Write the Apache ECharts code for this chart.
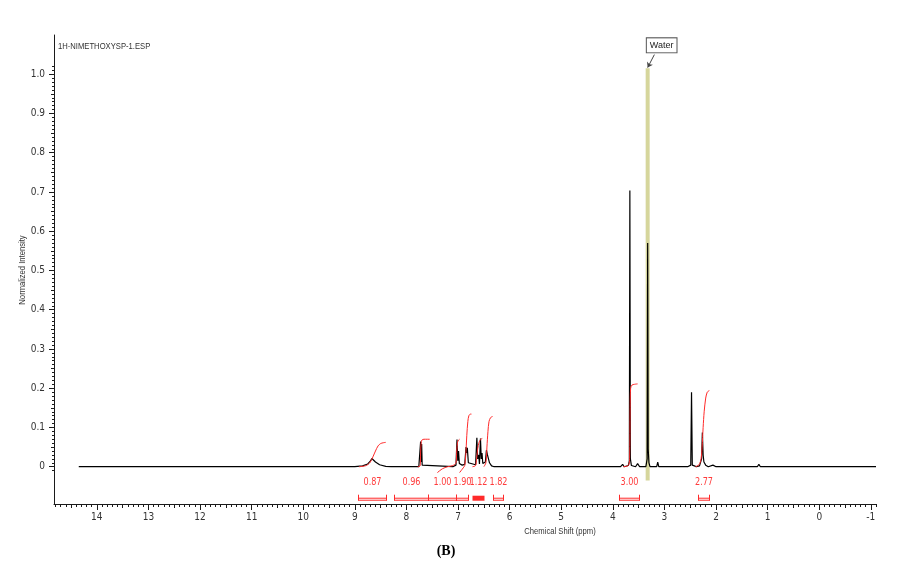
<!DOCTYPE html>
<html>
<head>
<meta charset="utf-8">
<script src="https://cdn.jsdelivr.net/npm/echarts@6/dist/echarts.min.js"></script>
<style>
html,body{margin:0;padding:0;background:#fff;}
#chart{width:902px;height:562px;}
</style>
</head>
<body>
<div id="chart"></div>
<script>
// ---- data ----
var spectrumTitle = '1H-NIMETHOXYSP-1.ESP';
var xTickValues = [14, 13, 12, 11, 10, 9, 8, 7, 6, 5, 4, 3, 2, 1, 0, -1];
var yTickValues = [0, 0.1, 0.2, 0.3, 0.4, 0.5, 0.6, 0.7, 0.8, 0.9, 1.0];

// spectrum trace: [chemical shift (ppm), normalized intensity]
var spectrum = [
  [14.35, 0], [9.0, 0], [8.85, 0.002], [8.75, 0.007], [8.70, 0.014], [8.67, 0.021], [8.64, 0.019],
  [8.60, 0.012], [8.52, 0.005], [8.40, 0.001], [8.30, 0],
  [7.76, 0], [7.735, 0.005], [7.725, 0.064], [7.715, 0.012], [7.705, 0.058], [7.695, 0.004], [7.67, 0],
  [7.10, 0], [7.04, 0.004], [7.02, 0.069], [7.005, 0.015], [6.99, 0.04], [6.975, 0.008], [6.94, 0.012], [6.92, 0.004],
  [6.87, 0.006], [6.845, 0.05], [6.83, 0.035], [6.82, 0.048], [6.80, 0.01], [6.77, 0.006],
  [6.66, 0.005], [6.635, 0.074], [6.62, 0.02], [6.60, 0.03], [6.585, 0.007], [6.565, 0.072], [6.55, 0.02],
  [6.535, 0.035], [6.52, 0.008], [6.47, 0.012], [6.45, 0.042], [6.43, 0.03], [6.41, 0.035], [6.39, 0.01],
  [6.35, 0.002], [6.30, 0],
  [4.15, 0], [4.12, 0.004], [4.10, 0],
  [3.85, 0], [3.81, 0.006], [3.78, 0], [3.70, 0.003], [3.68, 0.015], [3.67, 0.704], [3.66, 0.02],
  [3.64, 0.003], [3.56, 0], [3.52, 0.008], [3.48, 0],
  [3.36, 0], [3.335, 0.02], [3.325, 0.57], [3.315, 0.045], [3.30, 0.01], [3.28, 0],
  [3.15, 0], [3.13, 0.012], [3.11, 0],
  [2.55, 0], [2.49, 0.004], [2.475, 0.19], [2.46, 0.004], [2.42, 0.002], [2.38, 0],
  [2.32, 0.002], [2.28, 0.02], [2.265, 0.087], [2.25, 0.03], [2.235, 0.012], [2.20, 0.004], [2.15, 0],
  [2.06, 0.004], [2.0, 0],
  [1.20, 0], [1.17, 0.006], [1.14, 0], [0.82, 0], [0.80, 0.003], [0.78, 0], [-1.1, 0]
];

// water peak highlight
var waterShift = 3.325;
var waterTop = 1.015;
var waterBottom = -0.035;
var waterLabel = 'Water';

// integral curves
var integral1 = [[8.92, 0], [8.78, 0.003], [8.70, 0.012], [8.65, 0.025], [8.60, 0.04], [8.55, 0.053], [8.50, 0.059], [8.45, 0.061], [8.40, 0.062]];
var integral2 = [[7.78, 0], [7.735, 0.002], [7.725, 0.035], [7.715, 0.06], [7.70, 0.068], [7.66, 0.07], [7.55, 0.07]];
var integral3 = [[7.40, -0.015], [7.30, -0.005], [7.20, 0.0], [7.10, 0.003], [7.04, 0.01], [7.025, 0.04], [7.01, 0.062], [6.99, 0.068], [6.97, 0.07]];
var integral4 = [[6.97, -0.015], [6.90, -0.003], [6.87, 0.003], [6.85, 0.03], [6.83, 0.08], [6.81, 0.115], [6.79, 0.13], [6.76, 0.134], [6.74, 0.134]];
var integral5 = [[6.72, 0.0], [6.66, 0.003], [6.64, 0.02], [6.62, 0.045], [6.59, 0.063], [6.56, 0.07], [6.53, 0.072]];
var integral6 = [[6.50, 0.0], [6.46, 0.01], [6.44, 0.05], [6.42, 0.09], [6.40, 0.115], [6.37, 0.125], [6.33, 0.128]];
var integral7 = [[3.80, 0], [3.70, 0.003], [3.675, 0.02], [3.665, 0.15], [3.655, 0.2], [3.63, 0.208], [3.58, 0.21], [3.52, 0.211]];
var integral8 = [[2.40, 0], [2.33, 0.005], [2.29, 0.02], [2.27, 0.05], [2.25, 0.1], [2.23, 0.14], [2.20, 0.175], [2.17, 0.19], [2.13, 0.194]];

// integration ranges and values
var integralLabels = ['0.87', '0.96', '1.00', '1.90', '1.12', '1.82', '3.00', '2.77'];
var integralFrom = [8.94, 8.24, 7.59, 7.04, 6.73, 6.33, 3.88, 2.35];
var integralTo = [8.40, 7.59, 7.04, 6.81, 6.49, 6.13, 3.50, 2.14];
var filledBrackets = ['1.12'];

// ---- chart ----
var X_MIN = -1.1, X_MAX = 14.83, Y_MIN = -0.095, Y_MAX = 1.1;
var RED = '#ff2a2a';
var AXIS = '#1a1a1a';
var TXT = '#333';
var FONT = 'Liberation Sans Narrow, DejaVu Sans Condensed, Liberation Sans, Arial, sans-serif';
var FONT_PLAIN = 'Liberation Sans, Arial, sans-serif';

function steps(a, b, s) {
  var out = [];
  var n = Math.round((b - a) / s);
  for (var i = 0; i <= n; i++) out.push(Math.round((a + i * s) * 1000) / 1000);
  return out;
}
var xMinor = steps(-1.1, 14.8, 0.1);
var xMid = steps(-1, 14.5, 0.5);
var yMinor = steps(-0.01, 1.02, 0.01);
var yMid = steps(0, 1.0, 0.05);

var bracketData = integralLabels.map(function (l, i) { return [integralFrom[i], integralTo[i], l]; });

function xAxisBase(extra) {
  var a = {
    type: 'value', inverse: true, min: X_MIN, max: X_MAX, position: 'bottom',
    splitLine: { show: false },
    axisLine: { show: false, onZero: false },
    axisLabel: { show: false },
    axisTick: { show: false }
  };
  for (var k in extra) a[k] = extra[k];
  return a;
}
function yAxisBase(extra) {
  var a = {
    type: 'value', min: Y_MIN, max: Y_MAX, position: 'left',
    splitLine: { show: false },
    axisLine: { show: false, onZero: false },
    axisLabel: { show: false },
    axisTick: { show: false }
  };
  for (var k in extra) a[k] = extra[k];
  return a;
}

var integralCurves = [integral1, integral2, integral3, integral4, integral5, integral6, integral7, integral8];

var series = [
  {
    type: 'line', name: 'water', data: [[waterShift, waterBottom], [waterShift, waterTop]],
    symbol: 'none', z: 1, silent: true,
    lineStyle: { color: '#d6d69c', width: 4 },
    markPoint: {
      symbol: 'circle', symbolSize: 0,
      data: [{ coord: [waterShift, waterTop] }],
      label: {
        show: true, formatter: waterLabel, offset: [14, -23],
        fontSize: 9, fontFamily: FONT_PLAIN, color: '#222',
        backgroundColor: '#fff', borderColor: '#555', borderWidth: 1, padding: [3, 3, 2, 3]
      }
    },
    markLine: {
      silent: true, symbol: ['none', 'arrow'], symbolSize: 5,
      lineStyle: { color: '#444', width: 1, type: 'solid' },
      label: { show: false },
      data: [[{ coord: [waterShift - 0.13, waterTop + 0.035] }, { coord: [waterShift, waterTop + 0.002] }]]
    }
  },
  {
    type: 'line', name: 'spectrum', data: spectrum, symbol: 'none', z: 3,
    lineStyle: { color: '#000', width: 1.2 }
  }
];
integralCurves.forEach(function (c) {
  series.push({ type: 'line', data: c, symbol: 'none', smooth: 0.3, z: 4, lineStyle: { color: RED, width: 1 } });
});
series.push({
  type: 'custom', data: bracketData, z: 5, clip: false,
  encode: { x: [0, 1], y: -1 },
  renderItem: function (params, api) {
    var p1 = api.coord([api.value(0), 0]);
    var p2 = api.coord([api.value(1), 0]);
    var label = bracketData[params.dataIndex][2];
    var y0 = p1[1];
    var xa = Math.round(p1[0]) + 0.5, xb = Math.round(p2[0]) + 0.5;
    var children = [];
    if (filledBrackets.indexOf(label) >= 0) {
      children.push({ type: 'rect', shape: { x: xa, y: y0 + 29, width: xb - xa, height: 5 }, style: { fill: RED } });
    } else {
      var ls = { stroke: RED, lineWidth: 1 };
      children.push({ type: 'line', shape: { x1: xa, y1: y0 + 28, x2: xa, y2: y0 + 34 }, style: ls });
      children.push({ type: 'line', shape: { x1: xb, y1: y0 + 28, x2: xb, y2: y0 + 34 }, style: ls });
      children.push({ type: 'line', shape: { x1: xa, y1: y0 + 31.5, x2: xb, y2: y0 + 31.5 }, style: ls });
      children.push({ type: 'line', shape: { x1: xa, y1: y0 + 33.5, x2: xb, y2: y0 + 33.5 }, style: ls });
    }
    children.push({
      type: 'text', x: (xa + xb) / 2, y: y0 + 16, scaleX: 0.9,
      style: { text: label, fill: '#ff3c3c', font: '10px ' + FONT, align: 'center', verticalAlign: 'middle' }
    });
    return { type: 'group', children: children };
  }
});

var chart = echarts.init(document.getElementById('chart'), null, { renderer: 'canvas' });
chart.setOption({
  animation: false,
  backgroundColor: '#fff',
  grid: { left: 54, right: 26, top: 35, bottom: 58, containLabel: false },
  xAxis: [
    xAxisBase({
      axisLine: { show: true, onZero: false, lineStyle: { color: AXIS, width: 1 } },
      axisTick: { show: true, customValues: xTickValues, length: 6, lineStyle: { color: AXIS } },
      axisLabel: {
        show: true, customValues: xTickValues, margin: 8, color: TXT, fontSize: 10, fontFamily: FONT,
        formatter: function (v) { return String(Math.round(v)); }
      }
    }),
    xAxisBase({ axisTick: { show: true, customValues: xMinor, length: 3, lineStyle: { color: AXIS } } }),
    xAxisBase({ axisTick: { show: true, customValues: xMid, length: 4, lineStyle: { color: AXIS } } })
  ],
  yAxis: [
    yAxisBase({
      axisLine: { show: true, onZero: false, lineStyle: { color: AXIS, width: 1 } },
      axisTick: { show: true, customValues: yTickValues, length: 5, lineStyle: { color: AXIS } },
      axisLabel: {
        show: true, customValues: yTickValues, margin: 9, color: TXT, fontSize: 10, fontFamily: FONT,
        formatter: function (v) { return Math.abs(v) < 1e-9 ? '0' : v.toFixed(1); }
      }
    }),
    yAxisBase({ axisTick: { show: true, customValues: yMinor, length: 2, lineStyle: { color: AXIS } } }),
    yAxisBase({ axisTick: { show: true, customValues: yMid, length: 3, lineStyle: { color: AXIS } } })
  ],
  series: series,
  graphic: [
    { type: 'text', x: 58, y: 47, scaleX: 0.85, style: { text: spectrumTitle, font: '9px ' + FONT_PLAIN, fill: TXT, verticalAlign: 'middle' } },
    { type: 'text', x: 23, y: 270, rotation: Math.PI / 2, scaleX: 0.85, style: { text: 'Normalized Intensity', font: '9px ' + FONT_PLAIN, fill: TXT, align: 'center', verticalAlign: 'middle' } },
    { type: 'text', x: 560, y: 532, scaleX: 0.85, style: { text: 'Chemical Shift (ppm)', font: '9px ' + FONT_PLAIN, fill: TXT, align: 'center', verticalAlign: 'middle' } },
    { type: 'text', x: 446, y: 551, style: { text: '(B)', font: 'bold 14px Liberation Serif, Times New Roman, serif', fill: '#000', align: 'center', verticalAlign: 'middle' } }
  ]
});
</script>
</body>
</html>
